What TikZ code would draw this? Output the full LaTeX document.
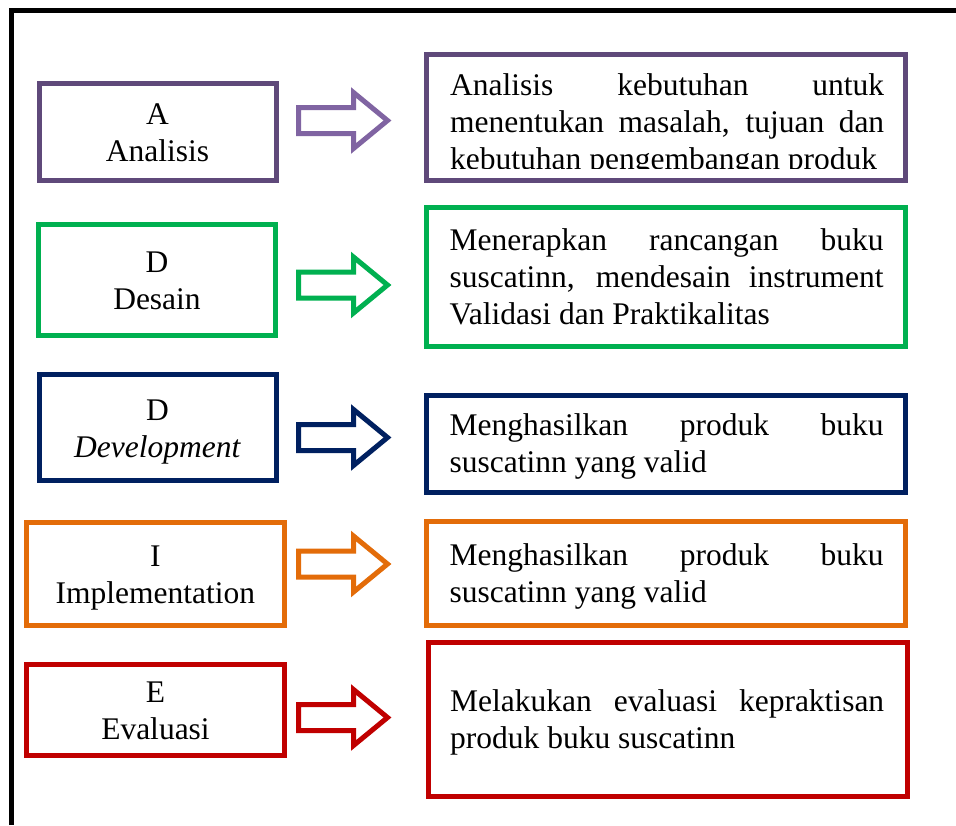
\documentclass[tikz,border=0pt]{standalone}
\usepackage{fontspec}
\setmainfont{Liberation Serif}
\usepackage{xcolor}
\usepackage{tikz}
\usetikzlibrary{positioning,calc}
\definecolor{ADDIEpurple}{HTML}{5F497A}
\definecolor{ADDIEpurpleLight}{HTML}{8064A2}
\definecolor{ADDIEgreen}{HTML}{00B050}
\definecolor{ADDIEnavy}{HTML}{002060}
\definecolor{ADDIEorange}{HTML}{E36C09}
\definecolor{ADDIEred}{HTML}{C00000}
\newcommand{\hollowarrow}[2]{\draw[hollowarr, draw=#1] (#2) ++(0,-13) -- ++(55,0) -- ++(0,-15) -- ++(34,28) -- ++(-34,28) -- ++(0,-15) -- ++(-55,0) -- cycle;}
\tikzset{
  stagebox/.style={draw, line width=5pt, fill=white, inner sep=0pt, align=center, text width=225pt, text depth=35pt},
  descbox/.style={draw, line width=5pt, fill=white, inner sep=0pt, minimum width=479pt},
  desctext/.style={inner sep=0pt, anchor=base west, text width=434pt, align=justify, execute at begin node={\tolerance=10000\hyphenpenalty=10000}},
  hollowarr/.style={line width=5pt, fill=white, miter limit=10}
}

\begin{document}
\begin{tikzpicture}[x=1pt, y=-1pt, font=\fontsize{31.5}{37}\selectfont]
\useasboundingbox (0,0) rectangle (956,825);
% frame
\draw[line width=4.5pt] (11.3,825) -- (11.3,10.5) -- (956,10.5);

% stages
\node[stagebox, draw=ADDIEpurple, minimum width=237pt, minimum height=97pt] (analisis) at (157.6,132) {A\\Analisis};
\node[stagebox, draw=ADDIEgreen, minimum width=237pt, minimum height=111pt] (desain) at (157,280) {D\\Desain};
\node[stagebox, draw=ADDIEnavy, minimum width=237pt, minimum height=105.7pt] (develop) at (157.5,427.4) {D\\\textit{Development}};
\node[stagebox, draw=ADDIEorange, minimum width=257.5pt, minimum height=103pt] (implement) at (155.4,574) {I\\Implementation};
\node[stagebox, draw=ADDIEred, minimum width=257.5pt, minimum height=91pt] (evaluasi) at (155.5,709.7) {E\\Evaluasi};

% arrows
\coordinate (arrA) at (298.5,120.5);
\coordinate (arrD) at (298.5,285);
\coordinate (arrDev) at (298.5,437.5);
\coordinate (arrI) at (298.5,564);
\coordinate (arrE) at (298.5,717.5);
\hollowarrow{ADDIEpurpleLight}{arrA}
\hollowarrow{ADDIEgreen}{arrD}
\hollowarrow{ADDIEnavy}{arrDev}
\hollowarrow{ADDIEorange}{arrI}
\hollowarrow{ADDIEred}{arrE}

% descriptions
\node[descbox, draw=ADDIEpurple, minimum height=126pt] (analisisbox) at (666,117.5) {};
\node[descbox, draw=ADDIEgreen, minimum height=139pt] (desainbox) at (665.5,277) {};
\node[descbox, draw=ADDIEnavy, minimum height=97pt] (developbox) at (666,444) {};
\node[descbox, draw=ADDIEorange, minimum height=104pt] (implementbox) at (666,573.5) {};
\node[descbox, draw=ADDIEred, minimum height=154pt] (evaluasibox) at (668,719.5) {};

\begin{scope}
\clip (424,52) rectangle (908,168.5);
\node[desctext] (analisistext) at (450,95.7) {Analisis kebutuhan untuk\linebreak menentukan masalah, tujuan dan\linebreak kebutuhan pengembangan produk};
\end{scope}
\node[desctext] (desaintext) at (449.5,250.7) {Menerapkan rancangan buku\linebreak suscatinn, mendesain instrument\linebreak Validasi dan Praktikalitas};
\node[desctext] (developtext) at (449.5,435.7) {Menghasilkan produk buku\linebreak suscatinn yang valid};
\node[desctext] (implementtext) at (449.5,565) {Menghasilkan produk buku\linebreak suscatinn yang valid};
\node[desctext] (evaluasitext) at (450,711.7) {Melakukan evaluasi kepraktisan\linebreak produk buku suscatinn};
\end{tikzpicture}
\end{document}
